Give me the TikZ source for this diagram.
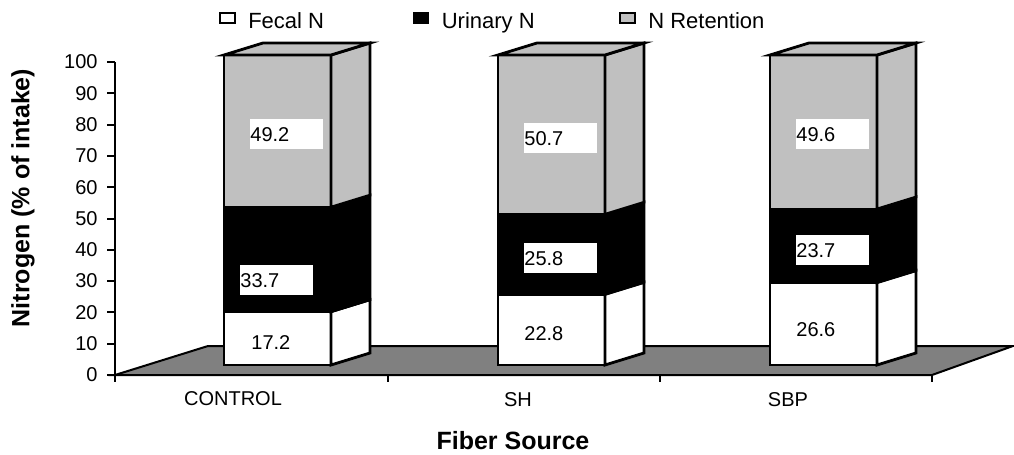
\documentclass[tikz,border=0pt]{standalone}
\usepackage{fontspec}
\setmainfont{Liberation Sans}
\usepackage{tikz}
\usetikzlibrary{%
  positioning
 ,calc
}
\definecolor{ret}{RGB}{192,192,192}
\definecolor{flr}{RGB}{128,128,128}
\tikzstyle{bar}=[draw=black,line width=1.4pt,line join=miter]
\tikzstyle{val}=[fill=white,inner sep=0pt,anchor=north west,minimum height=15pt,text width=36.5pt,align=left]
\tikzstyle{key}=[draw=black,line width=0.9pt,minimum width=7.5pt,minimum height=5pt,inner sep=0pt]
\tikzstyle{lt}=[inner sep=0pt,font=\fontsize{11}{13}\selectfont,text height=7.9pt,text depth=0pt,yshift=-1.2pt]
\tikzstyle{ttl}=[font=\fontsize{12.5}{15}\selectfont\bfseries]

\begin{document}
\begin{tikzpicture}[x=0.5pt,y=-0.5pt]
  \useasboundingbox (0,0) rectangle (1014,455);
  % the floor
  \filldraw[fill=flr,line width=1pt] (115,375)--(208,346)--(1013,346)--(932,375)--cycle;
  % the axis
  \draw[line width=1pt] (115,62)--(115,375);
  \foreach \v in {0,10,...,100}{
    \draw[line width=1pt] (107,375-3.13*\v)--(115,375-3.13*\v);
    \node[anchor=east,inner sep=0pt] (t\v) at (98,375-3.13*\v){\v};}
  \foreach \x in {115,388,660,932} \draw[line width=1pt] (\x,375)--(\x,382);
  % the bars
  \foreach \xl/\f/\u in {224/17.2/33.7,498/22.8/25.8,770/26.6/23.7}{
    \pgfmathsetmacro\xr{\xl+107}
    \pgfmathsetmacro\ya{365-3.1*\f}
    \pgfmathsetmacro\yb{365-3.1*(\f+\u)}
    \filldraw[bar,fill=white] (\xl,365) rectangle (\xr,\ya);
    \filldraw[bar,fill=black] (\xl,\ya) rectangle (\xr,\yb);
    \filldraw[bar,fill=ret] (\xl,\yb) rectangle (\xr,55);
    \filldraw[bar,fill=white] (\xr,365)--++(39,-12)--(\xr+39,\ya-12)--(\xr,\ya)--cycle;
    \filldraw[bar,fill=black] (\xr,\ya)--++(39,-12)--(\xr+39,\yb-12)--(\xr,\yb)--cycle;
    \filldraw[bar,fill=ret] (\xr,\yb)--++(39,-12)--(\xr+39,43)--(\xr,55)--cycle;
    \filldraw[bar,fill=ret] (\xl,55)--(\xl+39,43)--(\xr+39,43)--(\xr,55)--cycle;
  }
  % the values
  \node[val] (c1) at (251,327){17.2}; \node[val] (c2) at (240,265){33.7}; \node[val] (c3) at (250,119){49.2};
  \node[val] (s1) at (524,318){22.8}; \node[val] (s2) at (524,243){25.8}; \node[val] (s3) at (524,123){50.7};
  \node[val] (b1) at (796,314){26.6}; \node[val] (b2) at (796,235){23.7}; \node[val] (b3) at (796,119){49.6};
  % the legend
  \node[key,fill=white](kf) at (227.5,18){}; \node[lt,right=6pt of kf](lf){Fecal N};
  \node[key,fill=black](ku) at (421,18){}; \node[lt,right=6pt of ku](lu){Urinary N};
  \node[key,fill=ret](kr) at (627.5,18){}; \node[lt,right=6pt of kr](lr){N Retention};
  % the categories
  \node (cc) at (233,399){CONTROL}; \node (cs) at (518,400){SH}; \node (cb) at (788,400){SBP};
  % the titles
  \node[ttl,rotate=90] (yt) at (23,198){Nitrogen (\% of intake)};
  \node[ttl] (xt) at (513,441){Fiber Source};
\end{tikzpicture}
\end{document}
